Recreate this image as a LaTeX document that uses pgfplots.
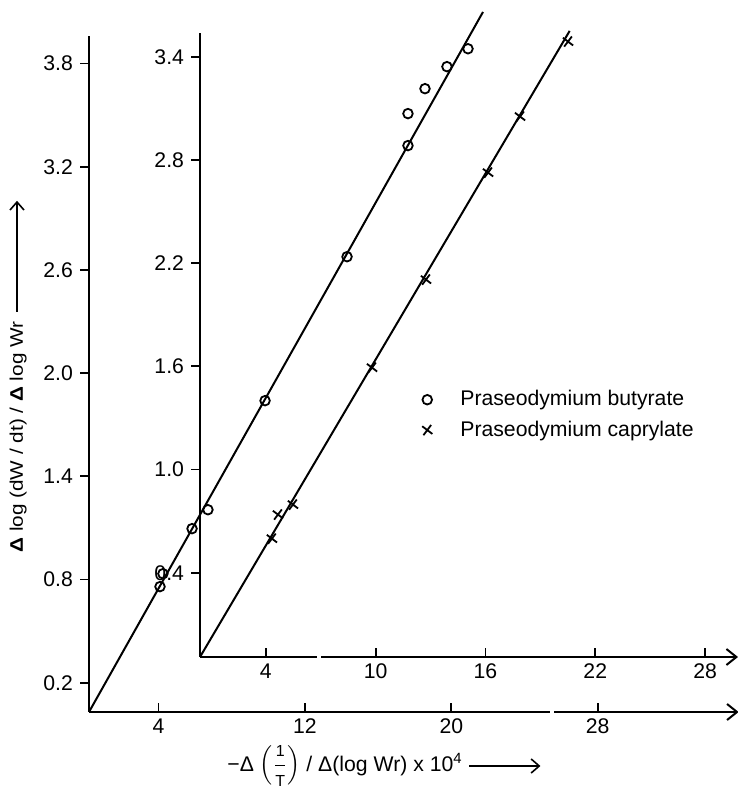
\documentclass[border=0pt]{standalone}
\usepackage{fontspec}
\setmainfont{Liberation Sans}
\usepackage{amsmath}
\usepackage{graphicx}
\usepackage{pgfplots}
\pgfplotsset{compat=1.18}
\usetikzlibrary{arrows.meta}

\newcommand{\lblfont}{\fontsize{10.6}{12.7}\selectfont}
\newcommand{\fracfont}{\fontsize{8}{9}\selectfont}

% two offset axes share one scale: 18.3 px per x unit, 172 px per y unit (1 px = 0.5pt)
\pgfplotsset{
  chartaxis/.style={
    axis lines=left, enlargelimits=false, clip=false,
    x=9.15pt, y=86pt, anchor=south west,
    axis line style={line width=1pt},
    x axis line style={-{Straight Barb[length=5pt,width=8pt,line width=1pt]}},
    y axis line style={-},
    tick align=inside, major tick length=4.5pt,
    major tick style={black, line width=0.9pt},
    ytick style={xshift=-4.5pt},
    yticklabel style={xshift=-4.5pt,
      /pgf/number format/fixed, /pgf/number format/fixed zerofill,
      /pgf/number format/precision=1},
    tick label style={font=\lblfont},
    /pgf/number format/assume math mode=true,
    minor tick num=0,
  },
  butyr/.style={only marks, mark=o, mark size=2.4pt, mark options={line width=0.9pt}},
  capryl/.style={only marks, mark=x, mark size=3.2pt, mark options={line width=0.9pt, rotate=8}},
}

\begin{document}
\begin{tikzpicture}
\useasboundingbox (0,0) rectangle (369pt,393.5pt);

% outer axes: butyrate
\begin{axis}[chartaxis, at={(44.5pt,37.5pt)},
  xmin=0.2, xmax=35.7, ymin=0.03, ymax=3.96,
  xtick={4,12,20,28}, ytick={0.2,0.8,1.4,2.0,2.6,3.2,3.8}]
  \addplot[line width=1pt, forget plot] coordinates {(0.2,0.03) (21.73,4.10)};
  \addplot[butyr] coordinates {
    (4.08,0.759) (4.24,0.834) (5.83,1.096) (6.70,1.206) (9.82,1.840)
    (14.30,2.677) (17.63,3.323) (17.63,3.509) (18.56,3.654) (19.76,3.782) (20.91,3.886)};
\end{axis}

% inner axes: caprylate
\begin{axis}[chartaxis, at={(100pt,65pt)},
  xmin=0.4, xmax=29.8, ymin=-0.09, ymax=3.54,
  xtick={4,10,16,22,28}, ytick={0.4,1.0,1.6,2.2,2.8,3.4},
  legend cell align=left,
  legend style={draw=none, fill=none, font=\lblfont,
    at={(axis cs:12.19,1.508)}, anchor=north west, row sep=2pt,
    /tikz/every odd column/.append style={column sep=12pt}}]
  \addlegendimage{butyr}
  \addlegendentry{Praseodymium butyrate}
  \addplot[line width=1pt, forget plot] coordinates {(0.4,-0.09) (20.6,3.55)};
  \addplot[capryl] coordinates {
    (4.33,0.598) (4.66,0.738) (5.48,0.796) (9.80,1.592)
    (12.75,2.104) (16.14,2.726) (17.89,3.052) (20.51,3.488)};
  \addlegendentry{Praseodymium caprylate}
\end{axis}

% small breaks in the printed axis lines
\fill[white] (158.5pt,63pt) rectangle (160.5pt,67pt);
\fill[white] (275pt,35.5pt) rectangle (277pt,39.5pt);

\node[rotate=90, anchor=base west, font=\lblfont, inner sep=0pt] at (11.5pt,117pt)
  {\resizebox{115.5pt}{6.6pt}{\textbf{Δ} log (dW / dt) / \textbf{Δ} log Wr}\hspace{4.5pt}\tikz[baseline=-3pt]\draw[line width=0.8pt,-{Straight Barb[length=4pt,width=7pt]}] (0,0)--(55.5pt,0);};
\node[anchor=base west, font=\lblfont, inner sep=0pt] at (113.5pt,8pt)
  {−Δ $\displaystyle\left(\frac{\mbox{\fracfont 1}}{\mbox{\fracfont T}}\right)$ / Δ(log Wr) x 10\textsuperscript{4}\hspace{3pt}\tikz[baseline=-2.5pt]\draw[line width=0.8pt,-{Straight Barb[length=4pt,width=7pt]}] (0,0)--(35.5pt,0);};
\end{tikzpicture}
\end{document}
